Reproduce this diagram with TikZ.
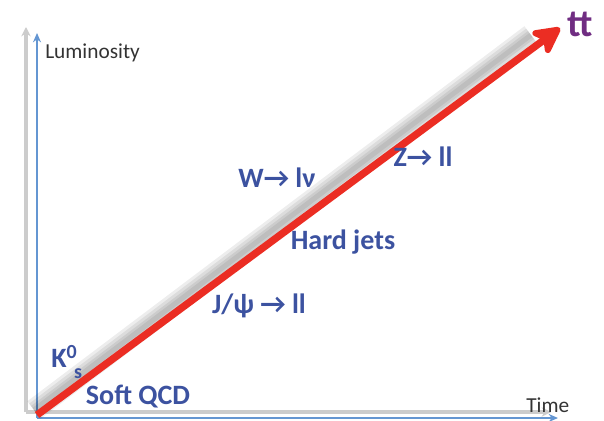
\documentclass[tikz,border=0pt]{standalone}
\usepackage{fontspec}
\setmainfont{Carlito}
\usetikzlibrary{arrows.meta}

\definecolor{labelblue}{RGB}{60,82,160}
\definecolor{axisblue}{RGB}{100,150,210}
\definecolor{trendred}{RGB}{235,45,35}
\definecolor{topurple}{RGB}{112,45,130}

\tikzset{
  axis/.style={axisblue, line width=1.3pt, -{Stealth[length=7pt,width=6pt]}},
  axisshadow/.style={gray!40, line width=2.4pt, -{Stealth[length=7pt,width=7pt]}},
  lbl/.style={text=labelblue, font=\bfseries\fontsize{21}{21}\selectfont, inner sep=0pt},
  axlbl/.style={text=black!80, font=\fontsize{16}{16}\selectfont, inner sep=0pt}
}

\begin{document}
\begin{tikzpicture}[x=0.75pt,y=-0.75pt]
  \useasboundingbox (0,0) rectangle (604,421);

  % Axis corners
  \coordinate (origin) at (37,418);
  \coordinate (ytop) at (37,33);
  \coordinate (xend) at (558,418);
  \coordinate (sorigin) at (26,412);
  \coordinate (sytop) at (26,27);
  \coordinate (sxend) at (551,412);

  % Axis shadows
  \draw[axisshadow] (sorigin) -- (sytop);
  \draw[axisshadow] (sorigin) -- (sxend);

  % Axes
  \draw[axis] (origin) -- (ytop);
  \draw[axis] (origin) -- (xend);

  % Axis labels
  \node[axlbl, anchor=west] (lumi) at (45,53) {Luminosity};
  \node[axlbl, anchor=west] (time) at (526,405) {Time};

  % Trend line and its soft shadow
  \coordinate (start) at (37,415);
  \coordinate (tip) at (560,28);
  \coordinate (sstart) at (37,415);
  \coordinate (send) at (535,42);
  \foreach \w in {22,16,10,5}
    \draw[black, opacity=0.07, line width=\w*0.75pt]
      ([shift={(-3,-5)}]sstart) -- ([shift={(-4,-7)}]send);
  \draw[trendred, line width=5.5pt,
        -{Stealth[length=25pt,width=26pt,inset=7pt,round]}]
    (start) -- (tip);

  % Process labels
  \node[text=topurple, font=\bfseries\fontsize{29}{29}\selectfont, inner sep=0pt]
    (ttbar) at (580,24) {tt};
  \node[lbl] (zll) at (423,157) {Z→ ll};
  \node[lbl] (wlnu) at (277,178) {W→ lν};
  \node[lbl] (jets) at (343,242) {Hard jets};
  \node[lbl] (jpsi) at (259,306) {J/ψ → ll};
  \node[lbl, anchor=west] (kzero) at (51,362)
    {K\raisebox{7pt}{\fontsize{15}{15}\selectfont 0}\kern-2pt\raisebox{-8pt}{\fontsize{15}{15}\selectfont s}};
  \node[lbl] (softqcd) at (138,397) {Soft QCD};

\end{tikzpicture}
\end{document}
